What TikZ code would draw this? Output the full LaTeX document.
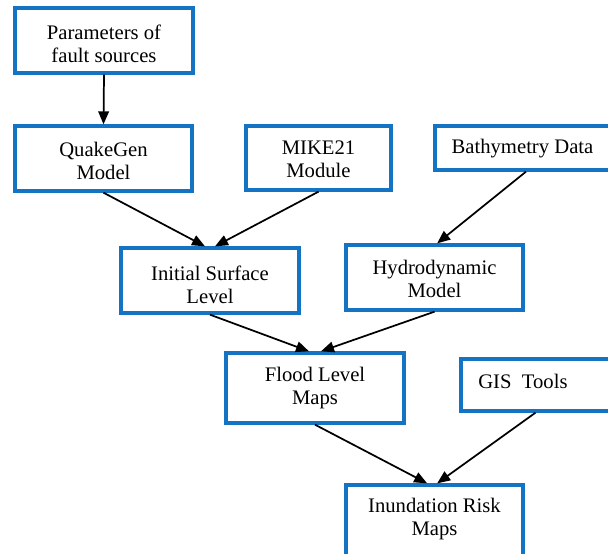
\documentclass[tikz,border=0pt]{standalone}
\usepackage{fontspec}
\setmainfont{Liberation Serif}
\newfontfamily\tnr{Liberation Serif}
\usetikzlibrary{arrows.meta}
\definecolor{boxblue}{RGB}{20,115,195}
\tikzset{
  box/.style={draw=boxblue, line width=2.5pt, fill=white, rectangle, inner sep=0pt},
  txt/.style={inner sep=0pt, align=center, font=\tnr\fontsize{15.5}{17}\selectfont},
  arr/.style={line width=1.3pt, -{Triangle[length=9.75pt,width=8pt]}}
}
\begin{document}
\begin{tikzpicture}[x=0.75pt,y=-0.75pt]
\clip (0,0) rectangle (608,554);
\useasboundingbox (0,0) rectangle (608,554);
\fill[white] (0,0) rectangle (608,554);
% boxes
\node[box, minimum width=133.5pt, minimum height=48.75pt] (par) at (104,40.5) {};
\node[box, minimum width=132.75pt, minimum height=48.75pt] (qg) at (103.5,158.5) {};
\node[box, minimum width=108.75pt, minimum height=48pt] (mike) at (318.5,158) {};
\node[box, minimum width=131.25pt, minimum height=33pt] (bathy) at (522.5,148) {};
\node[box, minimum width=133.5pt, minimum height=48.75pt] (isl) at (210,280.5) {};
\node[box, minimum width=132.75pt, minimum height=48.75pt] (hydro) at (434.5,277.5) {};
\node[box, minimum width=133.5pt, minimum height=52.5pt] (flood) at (315,388) {};
\node[box, minimum width=111.75pt, minimum height=39pt] (gis) at (535.5,385) {};
\node[box, minimum width=132.75pt, minimum height=60pt] (inund) at (434.5,525) {};
% texts
\node[txt] (parT) at (104,43.75) {Parameters of\\fault sources};
\node[txt] (qgT) at (103.5,161.25) {QuakeGen\\Model};
\node[txt] (mikeT) at (318.5,159.25) {MIKE21\\Module};
\node[txt] (bathyT) at (522.5,148.25) {Bathymetry Data};
\node[txt] (islT) at (210,284.75) {Initial Surface\\Level};
\node[txt] (hydroT) at (434.5,279.25) {Hydrodynamic\\Model};
\node[txt] (floodT) at (315,388.25) {Flood Level\\Maps};
\node[txt, anchor=west] (gisT) at (478,381.25) {GIS\ \ Tools};
\node[txt] (inundT) at (434.5,519.25) {Inundation Risk\\Maps};
% arrows
\draw[arr] (par.south) -- (qg.north);
\draw[arr] (qg.south) -- ([xshift=-3.75pt]isl.north);
\draw[arr] (mike.south) -- ([xshift=3.75pt]isl.north);
\draw[arr] ([xshift=2.6pt]bathy.south) -- ([xshift=2pt]hydro.north);
\draw[arr] (isl.south) -- ([xshift=-4.5pt]flood.north);
\draw[arr] (hydro.south) -- ([xshift=4.5pt]flood.north);
\draw[arr] (flood.south) -- ([xshift=-5.5pt]inund.north);
\draw[arr] (gis.south) -- ([xshift=2pt]inund.north);
\end{tikzpicture}
\end{document}
